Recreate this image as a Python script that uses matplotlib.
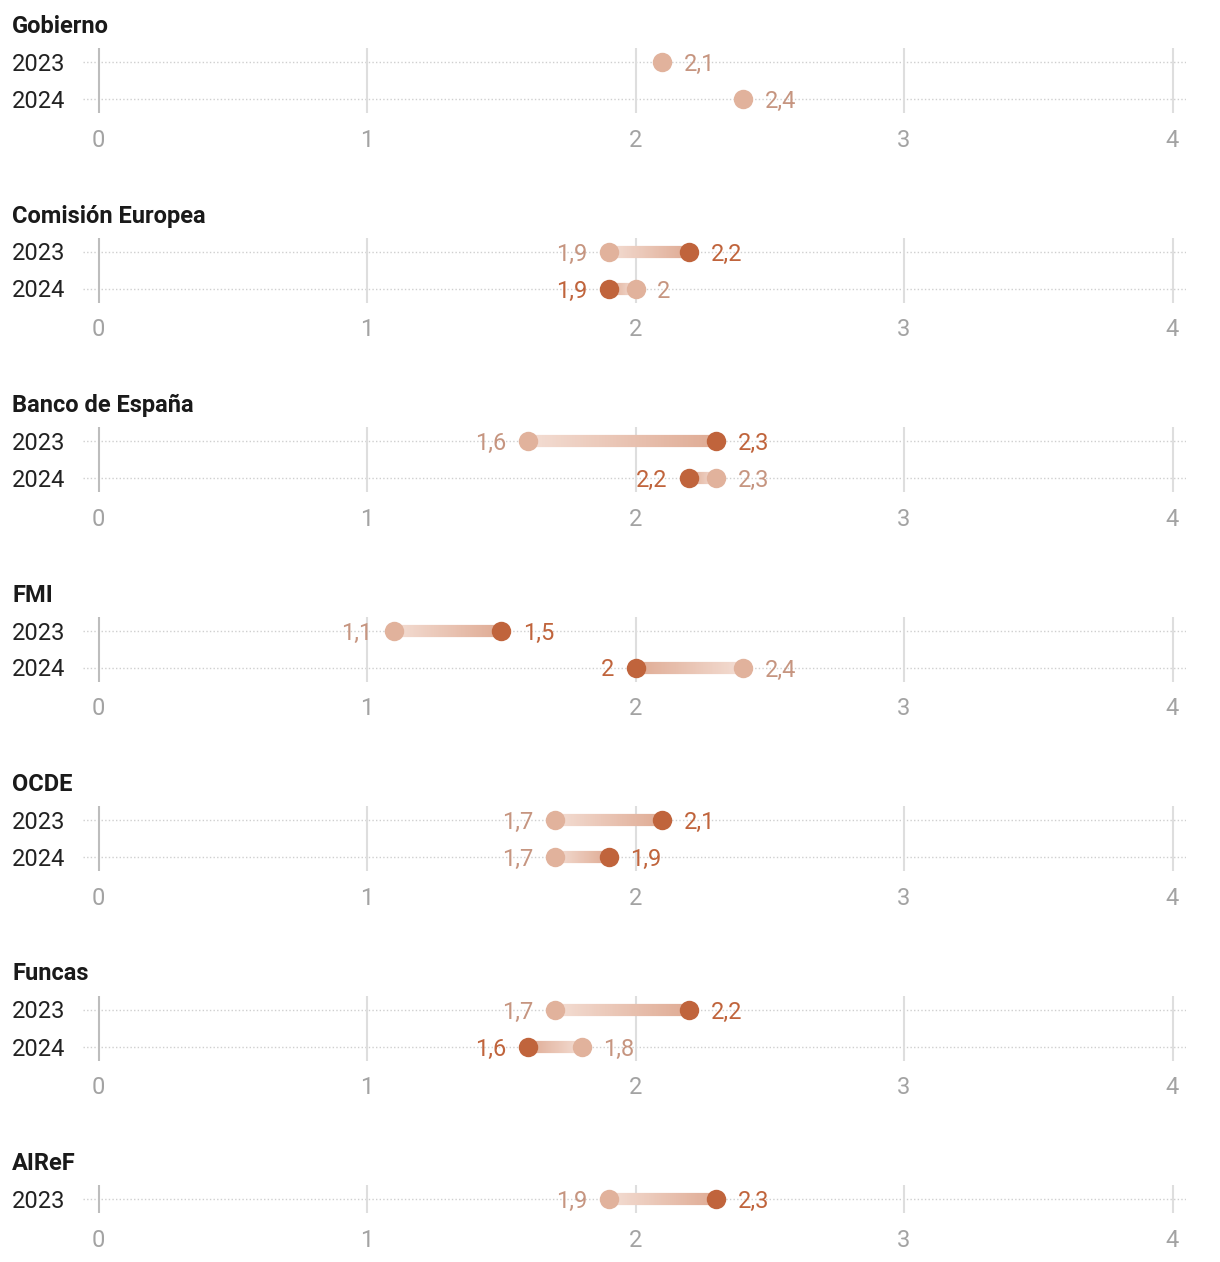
import numpy as np
import matplotlib
matplotlib.use("Agg")
import matplotlib.pyplot as plt
from matplotlib.collections import LineCollection
from matplotlib.colors import to_rgb

plt.rcParams['font.family'] = ['Roboto', 'DejaVu Sans']

# ---- data ----
institutions = ["Gobierno", "Comisión Europea", "Banco de España", "FMI", "OCDE", "Funcas", "AIReF"]
years = [["2023", "2024"], ["2023", "2024"], ["2023", "2024"], ["2023", "2024"],
         ["2023", "2024"], ["2023", "2024"], ["2023"]]
previous = [[2.1, 2.4], [1.9, 2.0], [1.6, 2.3], [1.1, 2.4], [1.7, 1.7], [1.7, 1.8], [1.9]]
current = [[None, None], [2.2, 1.9], [2.3, 2.2], [1.5, 2.0], [2.1, 1.9], [2.2, 1.6], [2.3]]
ticks = [0, 1, 2, 3, 4]
tick_labels = ["0", "1", "2", "3", "4"]

# ---- style ----
W, H = 1220, 1262
C_LIGHT = "#e1b29c"
C_DARK = "#c0643c"
C_LIGHT_TXT = "#c69580"
C_LINE_A = "#f3ddd3"
C_LINE_B = "#dfab94"
FS = 17
FS_T = 17

fig = plt.figure(figsize=(W / 100, H / 100), dpi=100)
fig.patch.set_facecolor("white")

x0_px, x4_px = 98.5, 1172.5
ppu = (x4_px - x0_px) / 4.0
left_px, right_px = 83, 1186
xlim = ((left_px - x0_px) / ppu, (right_px - x0_px) / ppu)
row_gap = 37
half = 14
panel_step = 189.5


def fmt(v):
    s = ("%.1f" % v).rstrip("0").rstrip(".")
    return s.replace(".", ",")


def grad_line(ax, y, xa, xb):
    n = 120
    xs = np.linspace(xa, xb, n + 1)
    segs = [[(xs[i], y), (xs[i + 1], y)] for i in range(n)]
    ca, cb = np.array(to_rgb(C_LINE_A)), np.array(to_rgb(C_LINE_B))
    t = np.linspace(0, 1, n)[:, None]
    cols = ca * (1 - t) + cb * t
    lc = LineCollection(segs, colors=cols, linewidths=8.8, capstyle="butt", zorder=3)
    ax.add_collection(lc)


for i, name in enumerate(institutions):
    row1 = 62 + i * panel_step
    n = len(years[i])
    top = row1 - half
    bottom = row1 + (n - 1) * row_gap + half
    ax = fig.add_axes([left_px / W, 1 - bottom / H, (right_px - left_px) / W, (bottom - top) / H])
    ax.set_xlim(*xlim)
    ext = half / row_gap
    ax.set_ylim(n - 1 + ext, -ext)
    for s in ax.spines.values():
        s.set_visible(False)
    ax.set_yticks([])
    ax.set_xticks(ticks)
    ax.set_xticklabels(tick_labels)
    ax.tick_params(axis="x", length=0, pad=11.5, labelsize=FS, labelcolor="#a3a3a3")
    for t in ticks:
        ax.axvline(t, color="#bdbdbd" if t == 0 else "#dedede", lw=1.5, zorder=1)
    for r in range(n):
        ax.axhline(r, color="#cfcfcf", lw=1.0, ls=(0, (1, 1.6)), zorder=0.5)

    # title
    fig.text(12 / W, 1 - (row1 - 38) / H, name, fontsize=FS_T, fontweight="bold",
             color="#1a1a1a", va="center_baseline", ha="left")

    for r in range(n):
        fig.text(12 / W, 1 - (row1 + r * row_gap) / H, years[i][r], fontsize=FS,
                 color="#222222", va="center_baseline", ha="left")
        p = previous[i][r]
        c = current[i][r]
        if c is not None:
            grad_line(ax, r, p, c)
        ax.plot([p], [r], "o", ms=14, color=C_LIGHT, mec="none", zorder=4)
        if c is not None:
            ax.plot([c], [r], "o", ms=14, color=C_DARK, mec="none", zorder=5)
        off = 15.5
        if c is None or p > c:
            pside = 1
        else:
            pside = -1
        ax.annotate(fmt(p), (p, r), xytext=(pside * off, 0), textcoords="offset points",
                    ha="left" if pside > 0 else "right", va="center_baseline",
                    fontsize=FS, color=C_LIGHT_TXT, zorder=6)
        if c is not None:
            ax.annotate(fmt(c), (c, r), xytext=(-pside * off, 0), textcoords="offset points",
                        ha="left" if -pside > 0 else "right", va="center_baseline",
                        fontsize=FS, color=C_DARK, zorder=6)

fig.savefig("out.png", dpi=100, facecolor="white")
